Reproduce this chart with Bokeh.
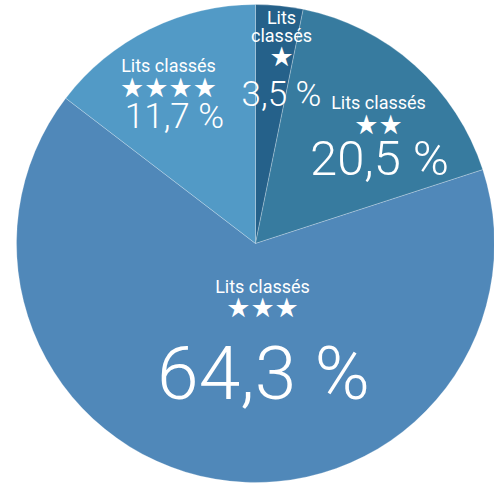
import numpy as np
from bokeh.plotting import figure
from bokeh.models import ColumnDataSource, Range1d
from bokeh.core.properties import value
from bokeh.embed import file_html
from bokeh.resources import INLINE

# ---- data ----
categories = ["1 étoile", "2 étoiles", "3 étoiles", "4 étoiles"]
slice_shares = [3.2, 16.8, 65.4, 14.6]          # shares as drawn
pct_labels = ["3,5 %", "20,5 %", "64,3 %", "11,7 %"]
cat_labels = ["Lits\nclassés", "Lits classés", "Lits classés", "Lits classés"]
star_labels = ["★", "★★", "★★★", "★★★★"]
colors = ["#25618a", "#377b9f", "#5088b9", "#529ac6"]

# ---- layout (pixel coordinates, y downward) ----
W, H = 494, 487
cx_page, cy_page, R = 255, 243, 239
label_x = [281, 378, 262, 168]
num_x = [281, 379, 263, 174]
title_mid = [35, 101.5, 286, 65]
star_mid = [56, 124, 307, 86.5]
num_mid = [93.5, 157.5, 372.5, 115.5]
num_size = [35, 49, 75, 35]
title_size = 18
star_size = 27
line_gap = 18.5


def py(y):
    return H - y


p = figure(width=W, height=H, output_backend="svg", toolbar_location=None,
           x_range=Range1d(0, W), y_range=Range1d(0, H),
           x_axis_type=None, y_axis_type=None, min_border=0,
           outline_line_color=None, background_fill_color="white",
           border_fill_color="white")
p.grid.visible = False

shares = np.array(slice_shares, dtype=float)
frac = shares / shares.sum()
cum = np.concatenate([[0], np.cumsum(frac)])
start = np.pi / 2 - cum[:-1] * 2 * np.pi
end = np.pi / 2 - cum[1:] * 2 * np.pi

src = ColumnDataSource(dict(cat=categories, start=start, end=end, color=colors))
p.wedge(x=cx_page, y=py(cy_page), radius=R, start_angle="start", end_angle="end",
        direction="clock", fill_color="color", line_color="white", line_alpha=0.35,
        line_width=0.7, source=src)

# titles
tx, ty, tt = [], [], []
for i, lab in enumerate(cat_labels):
    lines = lab.split("\n")
    n = len(lines)
    for j, ln in enumerate(lines):
        tx.append(label_x[i])
        ty.append(py(title_mid[i] - (n - 1 - j) * line_gap))
        tt.append(ln)
p.text(x=tx, y=ty, text=tt, text_align="center", text_baseline="middle",
       text_color="white", text_font=value("Roboto"), text_font_size=f"{title_size}px")

# stars
p.text(x=label_x, y=[py(v) for v in star_mid], text=star_labels, text_align="center",
       text_baseline="middle", text_color="white", text_font=value("DejaVu Sans"),
       text_font_size=f"{star_size}px")

# percentages
nsrc = ColumnDataSource(dict(x=num_x, y=[py(v) for v in num_mid], t=pct_labels,
                             s=[f"{v}px" for v in num_size]))
p.text(x="x", y="y", text="t", text_align="center", text_baseline="middle",
       text_color="white", text_font=value("Roboto Light"), text_font_size="s", source=nsrc)

open("out.html", "w").write(file_html(p, INLINE))
